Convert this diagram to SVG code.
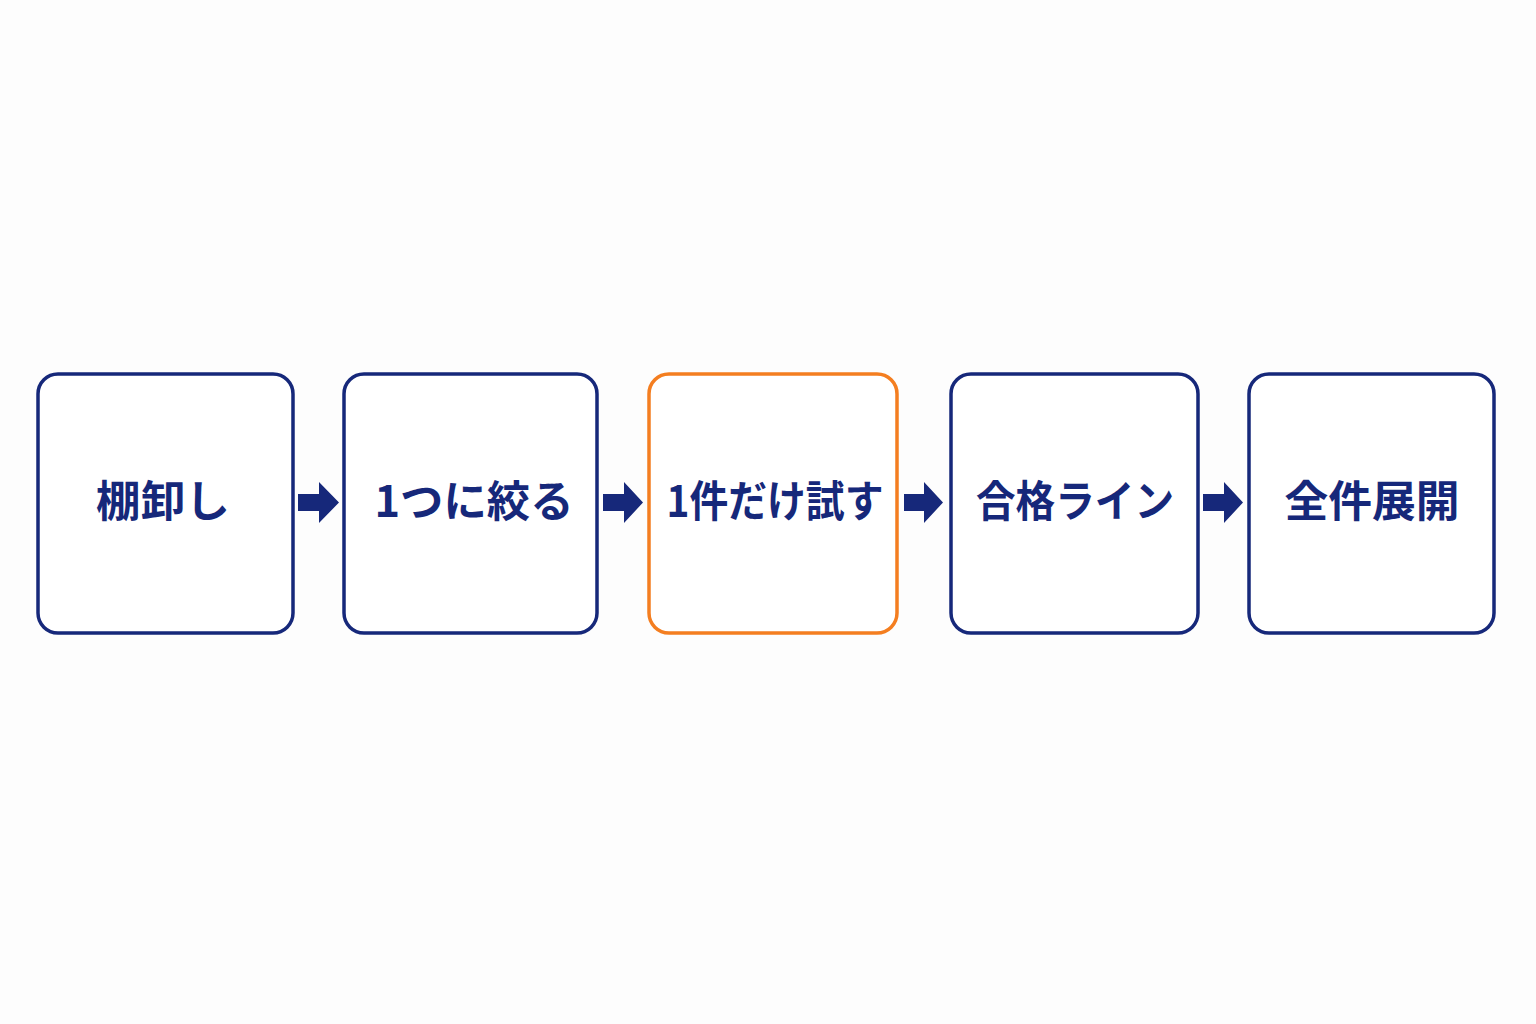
<svg xmlns="http://www.w3.org/2000/svg" width="1536" height="1024" viewBox="0 0 1536 1024">
<style>
.box{fill:#ffffff;stroke:#16287a;stroke-width:3.5}
.hl{stroke:#f47e20}
.lbl{font-family:"Noto Sans CJK JP","Noto Sans",sans-serif;font-weight:700;font-size:43px;fill:#16287a;text-anchor:middle;dominant-baseline:central}
.arr{fill:#16287a}
</style>
<rect width="1536" height="1024" fill="#fdfdfd"/>
<g id="connectors">
<path class="arr" d="M298,494 H319 V482 L339,502.5 L319,523 V511 H298 Z"/>
<path class="arr" d="M603,494 H624 V482 L643,502.5 L624,523 V511 H603 Z"/>
<path class="arr" d="M904,494 H924 V482 L943,502.5 L924,523 V511 H904 Z"/>
<path class="arr" d="M1203,494 H1224 V482 L1243,502.5 L1224,523 V511 H1203 Z"/>
</g>
<g id="n1"><rect class="box" x="38" y="374" width="255" height="259" rx="20"/><text class="lbl" x="163" y="498" textLength="134" lengthAdjust="spacingAndGlyphs">棚卸し</text></g>
<g id="n2"><rect class="box" x="344" y="374" width="253" height="259" rx="20"/><text class="lbl" x="474" y="498" textLength="199" lengthAdjust="spacingAndGlyphs">1つに絞る</text></g>
<g id="n3"><rect class="box hl" x="649" y="374" width="248" height="259" rx="20"/><text class="lbl" x="775" y="498" textLength="217" lengthAdjust="spacingAndGlyphs">1件だけ試す</text></g>
<g id="n4"><rect class="box" x="951" y="374" width="247" height="259" rx="20"/><text class="lbl" x="1075" y="498" textLength="198" lengthAdjust="spacingAndGlyphs">合格ライン</text></g>
<g id="n5"><rect class="box" x="1249" y="374" width="245" height="259" rx="20"/><text class="lbl" x="1372" y="498" textLength="175" lengthAdjust="spacingAndGlyphs">全件展開</text></g>
</svg>
